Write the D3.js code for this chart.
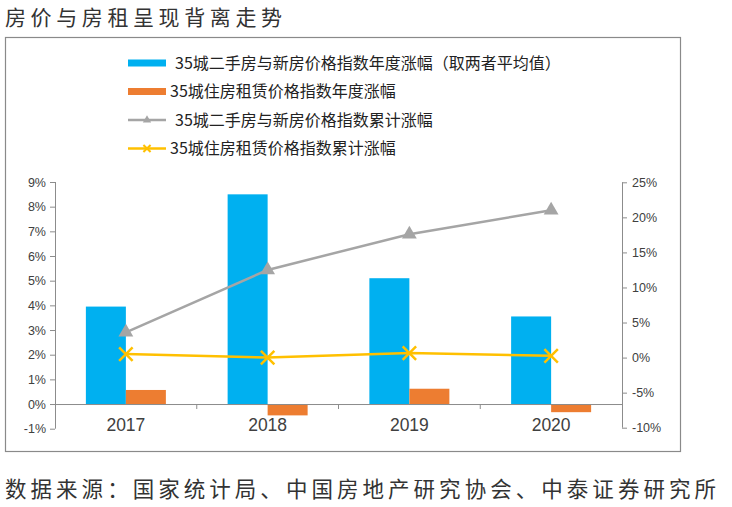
<!DOCTYPE html>
<html>
<head>
<meta charset="utf-8">
<script src="https://cdn.jsdelivr.net/npm/d3@7"></script>
<style>
  body { margin: 0; background: #fff; }
  text { font-family: "Liberation Sans", "Noto Sans CJK SC", sans-serif; }
  .cjk { font-family: "Noto Sans CJK SC", sans-serif; }
</style>
</head>
<body>
<script>
const years = ["2017", "2018", "2019", "2020"];
const priceYearly = [3.95, 8.5, 5.1, 3.55];     // 35城二手房与新房价格指数年度涨幅
const rentYearly = [0.57, -0.46, 0.62, -0.33];  // 35城住房租赁价格指数年度涨幅
const priceCum = [3.6, 12.5, 17.6, 21.0];       // 累计涨幅 (right axis)
const rentCum = [0.5, 0.0, 0.65, 0.25];
const leftTicks = [-1, 0, 1, 2, 3, 4, 5, 6, 7, 8, 9];
const rightTicks = [-10, -5, 0, 5, 10, 15, 20, 25];
const seriesNames = [
  "35城二手房与新房价格指数年度涨幅（取两者平均值）",
  "35城住房租赁价格指数年度涨幅",
  "35城二手房与新房价格指数累计涨幅",
  "35城住房租赁价格指数累计涨幅"
];

const W = 732, H = 507;
const colors = { blue: "#00B0F0", orange: "#ED7D31", gray: "#A5A5A5", yellow: "#FFC000" };
const axisColor = "#8c8c8c", labelColor = "#404040";

const svg = d3.select("body").append("svg")
  .attr("width", W).attr("height", H);

// title + source
svg.append("text").attr("class", "cjk")
  .attr("x", 5).attr("y", 25)
  .attr("font-size", 21).attr("fill", "#333")
  .attr("textLength", 277).attr("lengthAdjust", "spacing")
  .text("房价与房租呈现背离走势");

svg.append("text").attr("class", "cjk")
  .attr("x", 5).attr("y", 497)
  .attr("font-size", 21.5).attr("fill", "#333")
  .attr("textLength", 711).attr("lengthAdjust", "spacing")
  .text("数据来源：国家统计局、中国房地产研究协会、中泰证券研究所");

// frame
svg.append("rect")
  .attr("x", 5.5).attr("y", 37.5).attr("width", 675).attr("height", 414)
  .attr("fill", "none").attr("stroke", "#8a8a8a").attr("stroke-width", 1.2);

// scales
const x = d3.scaleBand().domain(years).range([55, 622]);
const xs = d3.scaleBand().domain(["a", "b"]).range([0, 80]);
const yL = d3.scaleLinear().domain([-1, 9]).range([428.7, 182]);
const yR = d3.scaleLinear().domain([-10, 25]).range([427.7, 182.3]);
const groupOff = (x.bandwidth() - 80) / 2;

// axes
const gL = svg.append("g").attr("transform", "translate(55,0)")
  .call(d3.axisLeft(yL).tickValues(leftTicks).tickSize(5).tickPadding(4).tickFormat(d => d + "%"));
const gR = svg.append("g").attr("transform", "translate(622,0)")
  .call(d3.axisRight(yR).tickValues(rightTicks).tickSize(5).tickPadding(5).tickFormat(d => d + "%"));
[gL, gR].forEach(g => {
  g.select(".domain").remove();
  g.selectAll(".tick line").attr("stroke", axisColor);
  g.selectAll(".tick text").attr("fill", labelColor).attr("font-size", 12.5)
    .attr("font-family", "Liberation Sans, sans-serif");
});
svg.append("line").attr("x1", 55.5).attr("x2", 55.5).attr("y1", yL(9)).attr("y2", yL(-1))
  .attr("stroke", axisColor);
svg.append("line").attr("x1", 622.5).attr("x2", 622.5).attr("y1", yR(25)).attr("y2", yR(-10))
  .attr("stroke", axisColor);

// bars
const bars = svg.append("g");
bars.selectAll(".b1").data(years).enter().append("rect")
  .attr("x", d => x(d) + groupOff + xs("a"))
  .attr("width", xs.bandwidth())
  .attr("y", (d, i) => yL(Math.max(0, priceYearly[i])))
  .attr("height", (d, i) => Math.abs(yL(priceYearly[i]) - yL(0)))
  .attr("fill", colors.blue);
bars.selectAll(".b2").data(years).enter().append("rect")
  .attr("x", d => x(d) + groupOff + xs("b"))
  .attr("width", xs.bandwidth())
  .attr("y", (d, i) => yL(Math.max(0, rentYearly[i])))
  .attr("height", (d, i) => Math.abs(yL(rentYearly[i]) - yL(0)))
  .attr("fill", colors.orange);

// category axis at 0%
const gX = svg.append("g").attr("transform", `translate(0,${yL(0)})`)
  .call(d3.axisBottom(x).tickSize(0).tickPadding(15));
gX.select(".domain").attr("stroke", axisColor);
gX.selectAll(".tick text").attr("fill", labelColor).attr("font-size", 17.5)
  .attr("font-family", "Liberation Sans, sans-serif");
gX.selectAll(".sep").data(years.slice(1)).enter().append("line")
  .attr("x1", d => x(d)).attr("x2", d => x(d))
  .attr("y1", 0).attr("y2", 5).attr("stroke", axisColor);

// lines
const cx = d => x(d) + x.bandwidth() / 2;
const line = d3.line();
svg.append("path")
  .attr("d", line(years.map((d, i) => [cx(d), yR(priceCum[i])])))
  .attr("fill", "none").attr("stroke", colors.gray).attr("stroke-width", 2.5);
svg.append("path")
  .attr("d", line(years.map((d, i) => [cx(d), yR(rentCum[i])])))
  .attr("fill", "none").attr("stroke", colors.yellow).attr("stroke-width", 2.5);

const tri = d3.symbol().type(d3.symbolTriangle).size(95);
svg.selectAll(".tri").data(years).enter().append("path")
  .attr("d", tri)
  .attr("transform", (d, i) => `translate(${cx(d)},${yR(priceCum[i])})`)
  .attr("fill", colors.gray);

const cross = d3.symbol().type(d3.symbolX).size(120);
svg.selectAll(".xm").data(years).enter().append("path")
  .attr("d", cross)
  .attr("transform", (d, i) => `translate(${cx(d)},${yR(rentCum[i])})`)
  .attr("fill", "none").attr("stroke", colors.yellow).attr("stroke-width", 2.5);

// legend
const legend = svg.append("g");
const rowY = [63, 91.5, 120, 148.5];
const textX = [175, 170, 175, 170];
legend.append("rect").attr("x", 128).attr("y", rowY[0] - 3.5).attr("width", 38).attr("height", 7).attr("fill", colors.blue);
legend.append("rect").attr("x", 128).attr("y", rowY[1] - 3.5).attr("width", 38).attr("height", 7).attr("fill", colors.orange);
legend.append("line").attr("x1", 128).attr("x2", 166).attr("y1", rowY[2]).attr("y2", rowY[2])
  .attr("stroke", colors.gray).attr("stroke-width", 2.5);
legend.append("path").attr("d", d3.symbol().type(d3.symbolTriangle).size(30))
  .attr("transform", `translate(147,${rowY[2]})`).attr("fill", colors.gray);
legend.append("line").attr("x1", 128).attr("x2", 166).attr("y1", rowY[3]).attr("y2", rowY[3])
  .attr("stroke", colors.yellow).attr("stroke-width", 2.5);
legend.append("path").attr("d", d3.symbol().type(d3.symbolX).size(35))
  .attr("transform", `translate(147,${rowY[3]})`).attr("fill", "none")
  .attr("stroke", colors.yellow).attr("stroke-width", 2);
legend.selectAll(".lt").data(seriesNames).enter().append("text")
  .attr("class", "cjk")
  .attr("x", (d, i) => textX[i]).attr("y", (d, i) => rowY[i])
  .attr("dy", "0.35em")
  .attr("font-size", 16).attr("fill", "#222")
  .text(d => d);
</script>
</body>
</html>
